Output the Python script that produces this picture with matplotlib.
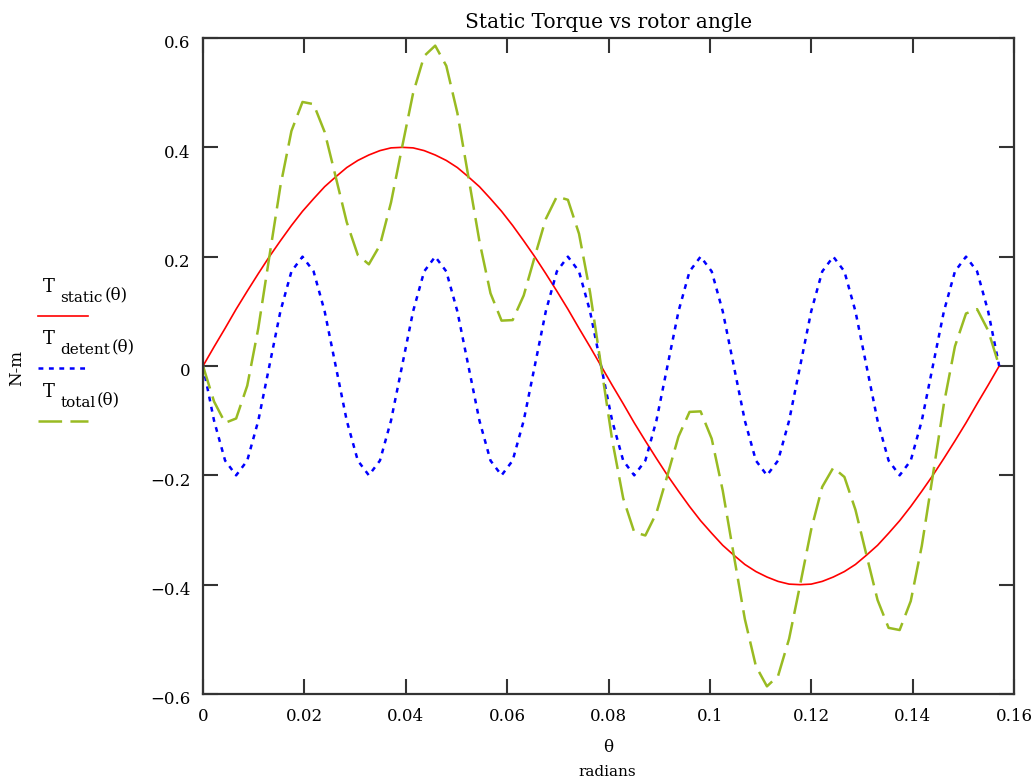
import matplotlib
matplotlib.use("Agg")
import matplotlib.pyplot as plt
from matplotlib.lines import Line2D
from matplotlib.transforms import ScaledTranslation

# rotor angle samples (radians)
theta = [0.00000, 0.00218, 0.00436, 0.00654, 0.00873, 0.01091, 0.01309, 0.01527,
         0.01745, 0.01963, 0.02182, 0.02400, 0.02618, 0.02836, 0.03054, 0.03272,
         0.03491, 0.03709, 0.03927, 0.04145, 0.04363, 0.04581, 0.04800, 0.05018,
         0.05236, 0.05454, 0.05672, 0.05890, 0.06109, 0.06327, 0.06545, 0.06763,
         0.06981, 0.07199, 0.07418, 0.07636, 0.07854, 0.08072, 0.08290, 0.08508,
         0.08727, 0.08945, 0.09163, 0.09381, 0.09599, 0.09817, 0.10036, 0.10254,
         0.10472, 0.10690, 0.10908, 0.11126, 0.11345, 0.11563, 0.11781, 0.11999,
         0.12217, 0.12435, 0.12654, 0.12872, 0.13090, 0.13308, 0.13526, 0.13744,
         0.13963, 0.14181, 0.14399, 0.14617, 0.14835, 0.15053, 0.15272, 0.15490,
         0.15708]

t_static = [0.000, 0.035, 0.069, 0.104, 0.137, 0.169, 0.200, 0.229, 0.257, 0.283,
            0.306, 0.328, 0.346, 0.363, 0.376, 0.386, 0.394, 0.399, 0.400, 0.399,
            0.394, 0.386, 0.376, 0.363, 0.346, 0.328, 0.306, 0.283, 0.257, 0.229,
            0.200, 0.169, 0.137, 0.104, 0.069, 0.035, 0.000, -0.035, -0.069, -0.104,
            -0.137, -0.169, -0.200, -0.229, -0.257, -0.283, -0.306, -0.328, -0.346,
            -0.363, -0.376, -0.386, -0.394, -0.399, -0.400, -0.399, -0.394, -0.386,
            -0.376, -0.363, -0.346, -0.328, -0.306, -0.283, -0.257, -0.229, -0.200,
            -0.169, -0.137, -0.104, -0.069, -0.035, 0.000]

t_detent = [0.000, -0.100, -0.173, -0.200, -0.173, -0.100, 0.000, 0.100, 0.173, 0.200, 0.173, 0.100,
            0.000, -0.100, -0.173, -0.200, -0.173, -0.100, 0.000, 0.100, 0.173, 0.200, 0.173, 0.100,
            0.000, -0.100, -0.173, -0.200, -0.173, -0.100, 0.000, 0.100, 0.173, 0.200, 0.173, 0.100,
            0.000, -0.100, -0.173, -0.200, -0.173, -0.100, 0.000, 0.100, 0.173, 0.200, 0.173, 0.100,
            0.000, -0.100, -0.173, -0.200, -0.173, -0.100, 0.000, 0.100, 0.173, 0.200, 0.173, 0.100,
            0.000, -0.100, -0.173, -0.200, -0.173, -0.100, 0.000, 0.100, 0.173, 0.200, 0.173, 0.100,
            0.000]

t_total = [0.000, -0.065, -0.104, -0.096, -0.036, 0.069, 0.200, 0.329, 0.430, 0.483,
           0.479, 0.428, 0.346, 0.263, 0.203, 0.186, 0.221, 0.299, 0.400, 0.499,
           0.567, 0.586, 0.549, 0.463, 0.346, 0.228, 0.133, 0.083, 0.084, 0.129,
           0.200, 0.269, 0.310, 0.304, 0.242, 0.135, 0.000, -0.135, -0.242, -0.304,
           -0.310, -0.269, -0.200, -0.129, -0.084, -0.083, -0.133, -0.228, -0.346,
           -0.463, -0.549, -0.586, -0.567, -0.499, -0.400, -0.299, -0.221, -0.186,
           -0.203, -0.263, -0.346, -0.428, -0.479, -0.483, -0.430, -0.329, -0.200,
           -0.069, 0.036, 0.096, 0.104, 0.065, 0.000]

x_ticks = [0, 0.02, 0.04, 0.06, 0.08, 0.1, 0.12, 0.14, 0.16]
x_tick_labels = ["0", "0.02", "0.04", "0.06", "0.08", "0.1", "0.12", "0.14", "0.16"]
y_ticks = [-0.6, -0.4, -0.2, 0, 0.2, 0.4, 0.6]
y_tick_labels = ["\u22120.6", "\u22120.4", "\u22120.2", "0", "0.2", "0.4", "0.6"]

RED = "#ff0000"
BLUE = "#0000ff"
OLIVE = "#99bb22"
FRAME = "#333333"

plt.rcParams["font.family"] = ["DejaVu Serif"]
plt.rcParams["lines.scale_dashes"] = False

fig = plt.figure(figsize=(10.36, 7.82), dpi=100)
ax = fig.add_axes([203 / 1036, 1 - 694 / 782, 811 / 1036, 656 / 782])

ax.plot(theta, t_static, color=RED, lw=1.2)
ax.plot(theta, t_detent, color=BLUE, lw=1.8, dashes=(3.5, 4))
ax.plot(theta, t_total, color=OLIVE, lw=1.8, dashes=(17, 6))

ax.set_xlim(0, 0.16)
ax.set_ylim(-0.6, 0.6)
ax.set_xticks(x_ticks)
ax.set_xticklabels(x_tick_labels)
ax.set_yticks(y_ticks)
ax.set_yticklabels(y_tick_labels)
ax.tick_params(direction="in", length=11, width=1.5, color=FRAME,
               top=True, right=True, labelsize=12)
ax.tick_params(axis="x", pad=10)
ax.tick_params(axis="y", pad=9)
shift = ScaledTranslation(0, -4 / 100, fig.dpi_scale_trans)
for lab in ax.get_yticklabels():
    lab.set_transform(lab.get_transform() + shift)
for sp in ax.spines.values():
    sp.set_linewidth(1.6)
    sp.set_color(FRAME)

ax.set_title("Static Torque vs rotor angle", fontsize=14.5, pad=7)

# axis labels
fig.text(608 / 1036, 1 - 748 / 782, "\u03b8", ha="center", va="center", fontsize=12)
fig.text(607 / 1036, 1 - 772 / 782, "radians", ha="center", va="center", fontsize=11)
fig.text(17 / 1036, 1 - 368 / 782, "N-m", ha="center", va="center", rotation=90, fontsize=12)

# legend on the left, Mathcad style
legend_items = [
    ("static", 292, 316, RED, None, 1.2),
    ("detent", 344, 368, BLUE, (3.5, 4), 1.8),
    ("total", 397, 421, OLIVE, (17, 6), 1.8),
]
for name, ty, ly, col, dash, lw in legend_items:
    t1 = fig.text(43 / 1036, 1 - ty / 782, "T", ha="left", va="baseline", fontsize=13)
    t2 = ax.annotate(name, xy=(1, 0), xycoords=t1, xytext=(4, -4),
                     textcoords="offset points", ha="left", va="baseline",
                     fontsize=11, annotation_clip=False)
    ax.annotate("(\u03b8)", xy=(1, 0), xycoords=t2, xytext=(1, 4),
                textcoords="offset points", ha="left", va="baseline",
                fontsize=12, annotation_clip=False)
    line = Line2D([38 / 1036, 88 / 1036], [1 - ly / 782, 1 - ly / 782],
                  transform=fig.transFigure, color=col, lw=lw)
    if dash:
        line.set_dashes(dash)
    fig.add_artist(line)

fig.savefig("out.png", dpi=100)
